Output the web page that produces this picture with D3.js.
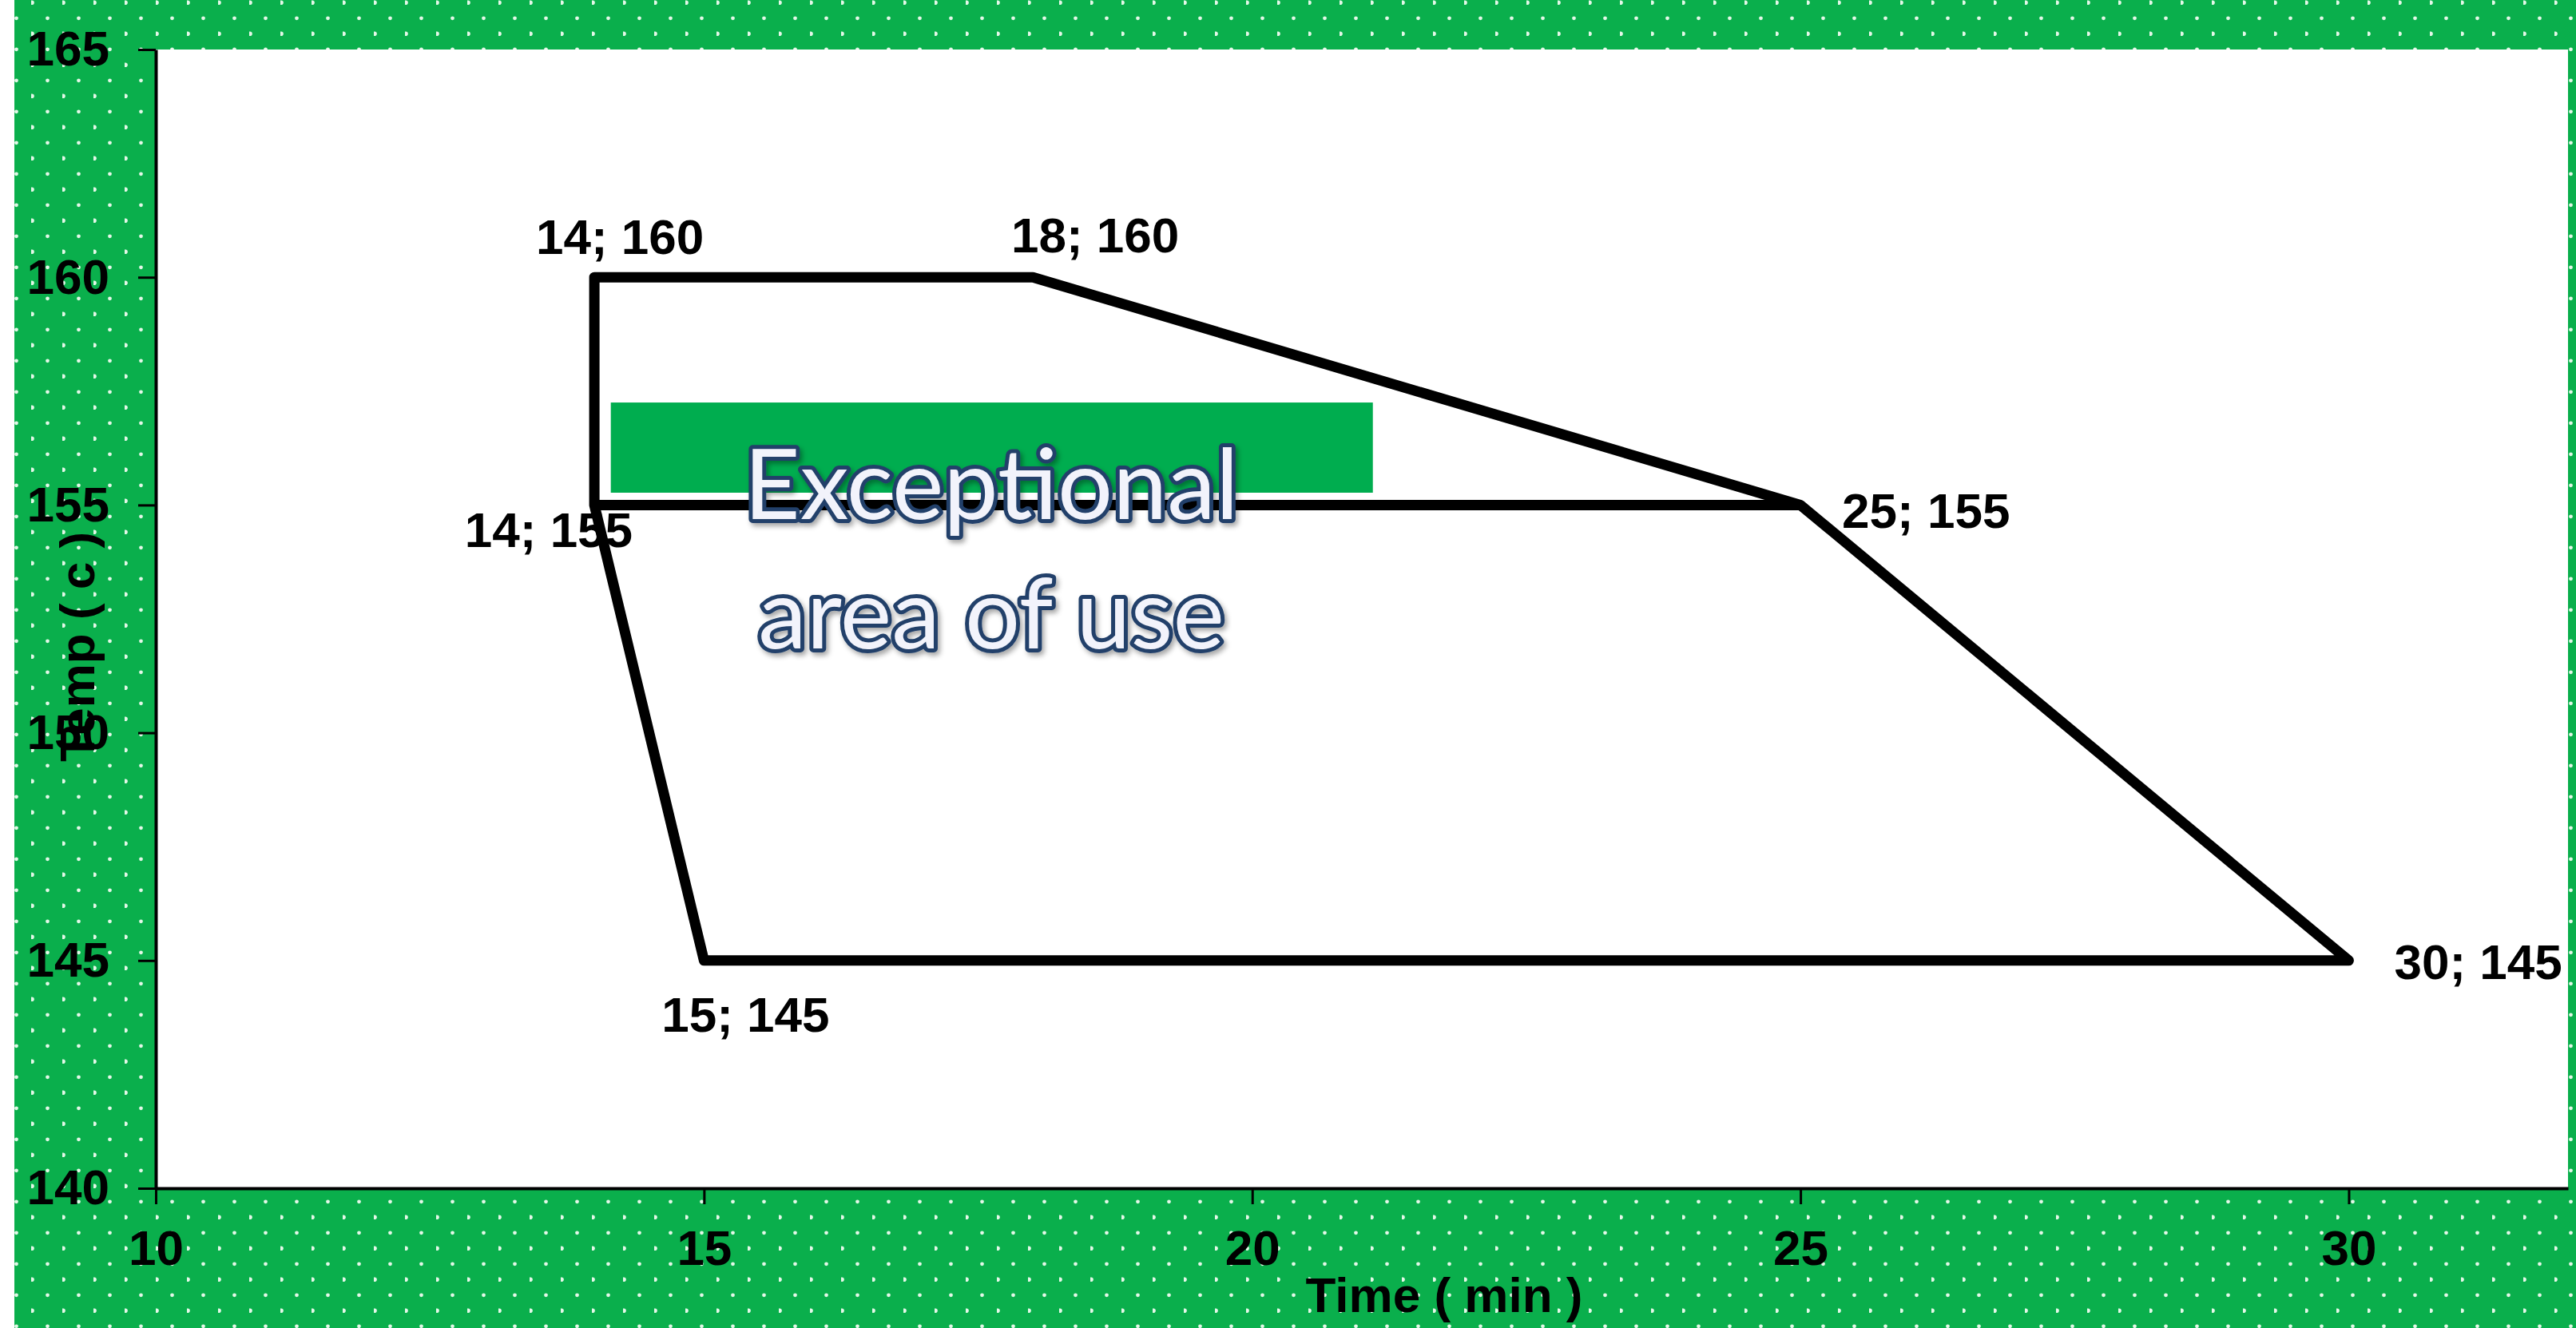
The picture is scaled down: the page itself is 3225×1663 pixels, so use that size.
<!DOCTYPE html>
<html>
<head>
<meta charset="utf-8">
<script src="https://cdn.jsdelivr.net/npm/d3@7"></script>
<style>
    body { margin: 0; background: #ffffff; }
    svg { display: block; }
</style>
</head>
<body>
<script>
/* ----------------------------------------------------------------------------
Temperature vs time window chart, drawn with D3.
-----------------------------------------------------------------------------*/

// data: the outline is walked as one line through these points
var timeValues = [14, 14, 18, 25, 14, 15, 30, 25];
var tempValues = [155, 160, 160, 155, 155, 145, 145, 155];

// labelled corner points
var labelTimes = [14, 18, 25, 30, 15, 14];
var labelTemps = [160, 160, 155, 145, 145, 155];
var labelTexts = ["14; 160", "18; 160", "25; 155", "30; 145", "15; 145",
    "14; 155"];

// axis ticks
var xTicks = [10, 15, 20, 25, 30];
var yTicks = [140, 145, 150, 155, 160, 165];

// annotation text lines
var noteLines = ["Exceptional", "area of use"];

var W = 3225, H = 1663;
var margin = {top: 62, right: 10, bottom: 175, left: 195};

var svg = d3.select("body").append("svg")
    .attr("width", W)
    .attr("height", H);

var defs = svg.append("defs");

// green dotted fill like the excel pattern
var pat = defs.append("pattern")
    .attr("id", "dots")
    .attr("patternUnits", "userSpaceOnUse")
    .attr("width", 39)
    .attr("height", 39);
pat.append("rect").attr("width", 39).attr("height", 39)
    .attr("fill", "#0aaf4c");
pat.append("circle").attr("cx", 1).attr("cy", 3.3).attr("r", 2.8)
    .attr("fill", "#e4f8e8");
pat.append("circle").attr("cx", 20.5).attr("cy", 22.8).attr("r", 2.4)
    .attr("fill", "#e4f8e8");

var shadow = defs.append("filter").attr("id", "shadow")
    .attr("x", "-10%").attr("y", "-20%")
    .attr("width", "130%").attr("height", "150%");
shadow.append("feDropShadow")
    .attr("dx", 3).attr("dy", 4)
    .attr("stdDeviation", 3)
    .attr("flood-color", "#000")
    .attr("flood-opacity", 0.35);

// chart area background
svg.append("rect")
    .attr("x", 18).attr("y", 0)
    .attr("width", W - 18).attr("height", H)
    .attr("fill", "url(#dots)");

// plot area
svg.append("rect")
    .attr("x", margin.left).attr("y", margin.top)
    .attr("width", W - margin.left - margin.right)
    .attr("height", H - margin.top - margin.bottom)
    .attr("fill", "#ffffff");

var xScale = d3.scaleLinear().domain([10, 32])
    .range([margin.left, W - margin.right]);
var yScale = d3.scaleLinear().domain([140, 165])
    .range([H - margin.bottom, margin.top]);

var xAxis = d3.axisBottom(xScale).tickValues(xTicks)
    .tickSize(20).tickPadding(32).tickSizeOuter(0);
var yAxis = d3.axisLeft(yScale).tickValues(yTicks)
    .tickSize(22).tickPadding(36).tickSizeOuter(0);

var gx = svg.append("g")
    .attr("transform", "translate(0," + (H - margin.bottom) + ")")
    .call(xAxis);
var gy = svg.append("g")
    .attr("transform", "translate(" + margin.left + ",0)")
    .call(yAxis);

[gx, gy].forEach(function(g) {
    g.selectAll(".domain").attr("stroke", "#000").attr("stroke-width", 4);
    g.selectAll(".tick line").attr("stroke", "#000").attr("stroke-width", 3);
    g.selectAll(".tick text")
        .attr("fill", "#000")
        .style("font-family", "'Liberation Sans', Arial, sans-serif")
        .style("font-weight", "bold")
        .style("font-size", "62px");
});

// green box behind the note
svg.append("rect")
    .attr("x", xScale(14.15))
    .attr("y", yScale(157.25))
    .attr("width", xScale(21.1) - xScale(14.15))
    .attr("height", yScale(155.27) - yScale(157.25))
    .attr("fill", "#00ad4f");

// the outline
var pts = timeValues.map(function(t, i) {
    return [t, tempValues[i]];
});
var line = d3.line()
    .x(function(d) { return xScale(d[0]); })
    .y(function(d) { return yScale(d[1]); });

svg.append("path")
    .datum(pts)
    .attr("d", line)
    .attr("fill", "none")
    .attr("stroke", "#000")
    .attr("stroke-width", 13)
    .attr("stroke-linejoin", "round");

// note text
svg.append("g")
    .attr("filter", "url(#shadow)")
    .selectAll("text")
    .data(noteLines)
    .enter()
    .append("text")
    .attr("x", xScale(17.62))
    .attr("y", function(d, i) { return yScale(i === 0 ? 154.69 : 151.85); })
    .attr("text-anchor", "middle")
    .style("font-family", "Lato, 'Open Sans', sans-serif")
    .style("font-size", "122px")
    .attr("fill", "#f2f3fb")
    .attr("stroke", "#22406a")
    .attr("stroke-width", 10)
    .attr("paint-order", "stroke")
    .attr("stroke-linejoin", "round")
    .text(function(d) { return d; });

// data labels, nudged like the original
var labelDx = [32, 78, 52, 57, 52, 48];
var labelDy = [-29, -31, 29, 23, 89, 53];
var labelAnchor = ["middle", "middle", "start", "start", "middle", "end"];

svg.selectAll("text.lbl")
    .data(labelTexts)
    .enter()
    .append("text")
    .attr("class", "lbl")
    .attr("x", function(d, i) { return xScale(labelTimes[i]) + labelDx[i]; })
    .attr("y", function(d, i) { return yScale(labelTemps[i]) + labelDy[i]; })
    .attr("text-anchor", function(d, i) { return labelAnchor[i]; })
    .style("font-family", "'Liberation Sans', Arial, sans-serif")
    .style("font-weight", "bold")
    .style("font-size", "62px")
    .attr("fill", "#000")
    .text(function(d) { return d; });

// axis titles
svg.append("text")
    .attr("x", 1808)
    .attr("y", 1643)
    .attr("text-anchor", "middle")
    .style("font-family", "'Liberation Sans', Arial, sans-serif")
    .style("font-weight", "bold")
    .style("font-size", "62px")
    .text("Time ( min )");

svg.append("text")
    .attr("transform", "translate(118,810) rotate(-90)")
    .attr("text-anchor", "middle")
    .style("font-family", "'Liberation Sans', Arial, sans-serif")
    .style("font-weight", "bold")
    .style("font-size", "62px")
    .text("Temp ( c )");
</script>
</body>
</html>
